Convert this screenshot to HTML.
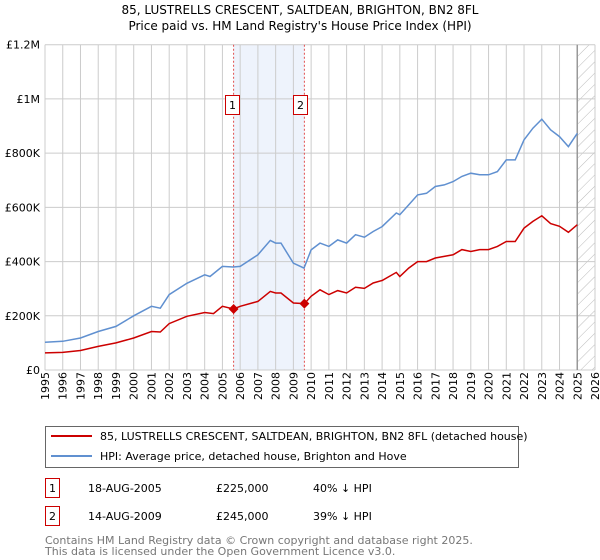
<!DOCTYPE html>
<html><head><meta charset="utf-8"><style>
body{margin:0;background:#fff;font-family:"Liberation Sans","DejaVu Sans",sans-serif;}
svg{display:block}
</style></head><body>
<svg id="c" width="600" height="560" xmlns="http://www.w3.org/2000/svg" font-family="DejaVu Sans, Liberation Sans, sans-serif">
<defs><pattern id="hatch" width="8" height="8" patternUnits="userSpaceOnUse" patternTransform="rotate(45)"><line x1="0" y1="0" x2="0" y2="8" stroke="#bbb" stroke-width="1"/></pattern></defs>
<text x="300" y="14" text-anchor="middle" font-size="12">85, LUSTRELLS CRESCENT, SALTDEAN, BRIGHTON, BN2 8FL</text>
<text x="300" y="30" text-anchor="middle" font-size="12">Price paid vs. HM Land Registry's House Price Index (HPI)</text>
<g id="plot"></g>
<g>
<rect x="45.5" y="426.5" width="473" height="41" fill="#fff" stroke="#666"/>
<line x1="51" y1="436" x2="92" y2="436" stroke="#cc0000" stroke-width="2"/>
<text x="100" y="440" font-size="11">85, LUSTRELLS CRESCENT, SALTDEAN, BRIGHTON, BN2 8FL (detached house)</text>
<line x1="51" y1="456" x2="92" y2="456" stroke="#6090d0" stroke-width="2"/>
<text x="100" y="460" font-size="11">HPI: Average price, detached house, Brighton and Hove</text>
</g>
<g font-size="11">
<rect x="45.5" y="478.5" width="14" height="19" fill="#fff" stroke="#cc0000"/>
<text x="52.5" y="492" text-anchor="middle">1</text>
<text x="88" y="492">18-AUG-2005</text><text x="216" y="492">£225,000</text><text x="313" y="492">40% ↓ HPI</text>
<rect x="45.5" y="506.5" width="14" height="19" fill="#fff" stroke="#cc0000"/>
<text x="52.5" y="520" text-anchor="middle">2</text>
<text x="88" y="520">14-AUG-2009</text><text x="216" y="520">£245,000</text><text x="313" y="520">39% ↓ HPI</text>
</g>
<text x="45" y="544" font-size="11" fill="#777">Contains HM Land Registry data © Crown copyright and database right 2025.</text>
<text x="45" y="555" font-size="11" fill="#777">This data is licensed under the Open Government Licence v3.0.</text>
</svg>
<script>
const hpiYears=[1995,1996,1997,1998,1999,2000,2001,2001.5,2002,2003,2004,2004.3,2005,2005.6,2006,2007,2007.7,2008,2008.3,2009,2009.6,2010,2010.5,2011,2011.5,2012,2012.5,2013,2013.5,2014,2014.8,2015,2015.5,2016,2016.5,2017,2017.5,2018,2018.5,2019,2019.5,2020,2020.5,2021,2021.5,2022,2022.5,2023,2023.5,2024,2024.5,2025];
const hpiValues=[102,106,118,142,161,200,235,228,278,320,351,345,382,380,382,425,478,468,468,394,376,443,468,456,480,468,499,490,511,529,579,573,609,646,652,677,683,695,714,726,720,720,732,775,775,849,892,925,886,861,824,873];
const propYears=[1995,1996,1997,1998,1999,2000,2001,2001.5,2002,2003,2004,2004.5,2005,2005.63,2006,2007,2007.7,2008,2008.3,2009,2009.62,2010,2010.5,2011,2011.5,2012,2012.5,2013,2013.5,2014,2014.8,2015,2015.5,2016,2016.5,2017,2017.5,2018,2018.5,2019,2019.5,2020,2020.5,2021,2021.5,2022,2022.5,2023,2023.5,2024,2024.5,2025];
const propValues=[63,65,72,87,100,118,142,140,171,198,212,208,235,225,235,253,290,284,284,247,245,272,296,278,293,284,305,301,321,330,360,345,376,400,400,413,419,425,444,437,444,444,456,474,474,523,548,569,540,530,508,536];
const saleYears=[2005.63,2009.62];
const saleValues=[225,245];
const saleLabels=["1","2"];
const yTicks=[0,200,400,600,800,1000,1200];
const yTickLabels=["£0","£200K","£400K","£600K","£800K","£1M","£1.2M"];
const xTicks=[1995,1996,1997,1998,1999,2000,2001,2002,2003,2004,2005,2006,2007,2008,2009,2010,2011,2012,2013,2014,2015,2016,2017,2018,2019,2020,2021,2022,2023,2024,2025,2026];

const X0=45,X1=595,Y0=370,Y1=44.7;
const xs=y=>X0+(y-1995)*(X1-X0)/31;
const ys=v=>Y0-v*(Y0-Y1)/1200;
const NS="http://www.w3.org/2000/svg";
const g=document.getElementById('plot');
function mk(tag,attrs,parent){const e=document.createElementNS(NS,tag);for(const k in attrs)e.setAttribute(k,attrs[k]);(parent||g).appendChild(e);return e;}

let e=mk('rect',{x:xs(saleYears[0]),y:Y1,width:xs(saleYears[1])-xs(saleYears[0]),height:Y0-Y1,fill:'#eef3fc'});


e=mk('rect',{x:xs(2025),y:Y1,width:X1-xs(2025),height:Y0-Y1,fill:'url(#hatch)'});


xTicks.forEach(t=>{
  e=mk('line',{x1:xs(t),x2:xs(t),y1:Y1,y2:Y0,stroke:'#ccc','stroke-width':1});
  
  
  e=mk('text',{x:0,y:0,'font-size':11,transform:`translate(${xs(t)+4},${Y0+30}) rotate(-90)`});
  e.textContent=t;
  
  
});
yTicks.forEach((t,i)=>{
  e=mk('line',{x1:X0,x2:X1,y1:ys(t),y2:ys(t),stroke:'#ccc','stroke-width':1});
  
  
  e=mk('text',{x:40,y:ys(t)+4,'font-size':11,'text-anchor':'end'});
  e.textContent=yTickLabels[i];
  
  
});
e=mk('line',{x1:xs(2025),x2:xs(2025),y1:Y1,y2:Y0,stroke:'#999','stroke-width':1.5});


saleYears.forEach((s,i)=>{
  e=mk('line',{x1:xs(s),x2:xs(s),y1:Y1,y2:Y0,stroke:'#e05050','stroke-width':1,'stroke-dasharray':'2,2'});
  
  
});
function pts(xa,va){return xa.map((x,i)=>xs(x).toFixed(1)+','+ys(va[i]).toFixed(1)).join(' ');}
e=mk('polyline',{points:pts(hpiYears,hpiValues),fill:'none',stroke:'#6090d0','stroke-width':1.5});


e=mk('polyline',{points:pts(propYears,propValues),fill:'none',stroke:'#cc0000','stroke-width':1.5});


saleYears.forEach((s,i)=>{
  const cx=xs(s),cy=ys(saleValues[i]);
  e=mk('path',{d:`M${cx} ${cy-5}L${cx+5} ${cy}L${cx} ${cy+5}L${cx-5} ${cy}Z`,fill:'#cc0000'});
  
  
  const bx=Math.round(cx-(i==0?9:11))+0.5;
  e=mk('rect',{x:bx,y:95.5,width:14,height:19,fill:'#fff',stroke:'#cc0000'});
  
  
  e=mk('text',{x:bx+7,y:109,'font-size':11,'text-anchor':'middle'});
  e.textContent=saleLabels[i];
  
  
});
</script>
</body></html>
